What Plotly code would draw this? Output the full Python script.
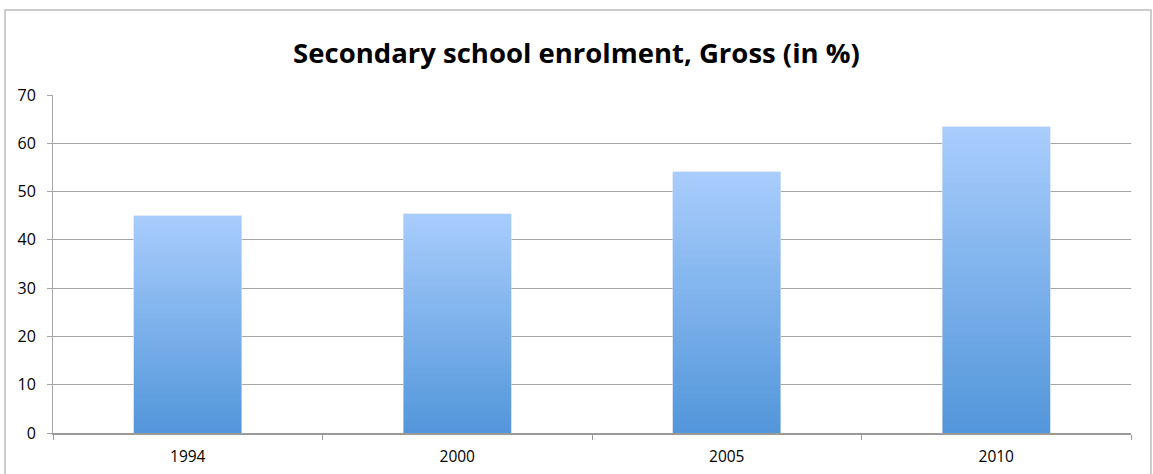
import plotly.graph_objects as go

# Gross secondary school enrolment (%) by year
years = ["1994", "2000", "2005", "2010"]
enrolment = [45.0, 45.4, 54.1, 63.4]
y_ticks = [0, 10, 20, 30, 40, 50, 60, 70]

# Vertical gradient: each bar is built from thin stacked slices,
# dark blue at the base fading to light blue at the top
N_SLICES = 60
base_rgb = (82, 150, 218)
top_rgb = (169, 205, 253)


def mix(t):
    r, g, b = (round(a + (c - a) * t) for a, c in zip(base_rgb, top_rgb))
    return f"rgb({r},{g},{b})"


fig = go.Figure()
for i in range(N_SLICES):
    t = (i + 0.5) / N_SLICES
    fig.add_trace(go.Bar(
        x=years,
        y=[v / N_SLICES for v in enrolment],
        marker=dict(color=mix(t), line=dict(width=0.4, color=mix(t))),
        showlegend=False,
        hoverinfo="skip",
    ))

# Hover carrier with the full values
fig.add_trace(go.Bar(
    x=years, y=enrolment, base=0,
    marker=dict(color="rgba(0,0,0,0)"),
    showlegend=False,
    hovertemplate="%{x}: %{y}<extra></extra>",
))

fig.update_layout(
    barmode="stack",
    bargap=0.6,
    width=1153,
    height=474,
    margin=dict(l=53, r=22, t=95, b=41),
    paper_bgcolor="white",
    plot_bgcolor="white",
    font=dict(family="Open Sans, Liberation Sans, Arial", color="#000000"),
    title=dict(
        text="<b>Secondary school enrolment, Gross (in %)</b>",
        x=0.5, xanchor="center",
        y=1 - 53 / 474, yref="container", yanchor="middle",
        font=dict(size=27.5, family="Open Sans, Liberation Sans, Arial", color="#000000"),
    ),
    xaxis=dict(
        showline=True, linecolor="#9a9a9a", linewidth=1.5,
        ticks="outside", tickson="boundaries", ticklen=5, tickcolor="#9a9a9a",
        tickfont=dict(size=15.5), ticklabelstandoff=9, showgrid=False,
        automargin=False,
    ),
    yaxis=dict(
        range=[0, 70], tickvals=y_ticks,
        showline=True, linecolor="#a6a6a6", linewidth=1,
        ticks="outside", ticklen=5, tickcolor="#a6a6a6",
        showgrid=True, gridcolor="#a6a6a6", gridwidth=1,
        tickfont=dict(size=16), ticklabelstandoff=8, zeroline=False,
        automargin=False,
    ),
)

# Outer frame around the chart area
fig.add_shape(type="rect", xref="paper", yref="paper",
              x0=-48 / 1078, x1=1 + 20 / 1078, y0=-0.2, y1=1 + 85 / 338,
              line=dict(color="#bdbdbd", width=1.5), fillcolor="rgba(0,0,0,0)",
              layer="below")

fig.write_html("out.html")
